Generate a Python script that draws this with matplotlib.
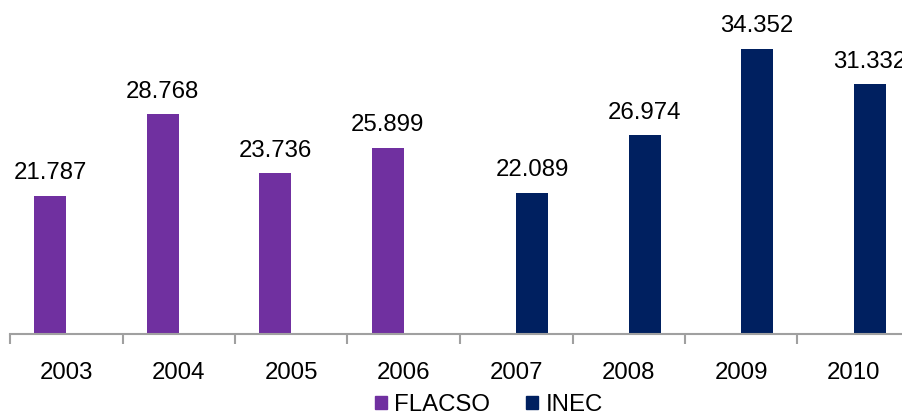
import numpy as np
import matplotlib
matplotlib.use("Agg")
import matplotlib.pyplot as plt
from matplotlib.patches import Patch

years = ["2003", "2004", "2005", "2006", "2007", "2008", "2009", "2010"]
flacso = [21.787, 28.768, 23.736, 25.899, None, None, None, None]
inec = [None, None, None, None, 22.089, 26.974, 34.352, 31.332]
labels_fmt = lambda v: f"{v:.3f}"

plt.rcParams['font.family'] = ['Liberation Sans', 'DejaVu Sans']
W, H = 902, 412
fig = plt.figure(figsize=(W/100, H/100), dpi=100)
ax = fig.add_axes([10/W, (H-334)/H, 900/W, 334/H])

purple = "#7030A0"
navy = "#002060"
x = np.arange(len(years))
bw = 32/112.5
fs = 17.3

for i, v in enumerate(flacso):
    if v is not None:
        ax.bar(x[i] - bw/2, v - 10, bottom=10, width=bw, color=purple)
        ax.text(x[i] - bw/2, v + 1.0, labels_fmt(v), ha='center', va='bottom', fontsize=fs)
for i, v in enumerate(inec):
    if v is not None:
        ax.bar(x[i] + bw/2, v - 10, bottom=10, width=bw, color=navy)
        ax.text(x[i] + bw/2, v + 1.0, labels_fmt(v), ha='center', va='bottom', fontsize=fs)

ax.set_xlim(-0.5, len(years) - 0.5)
ax.set_ylim(10, 10 + 334/11.7)
for s in ['top', 'right', 'left']:
    ax.spines[s].set_visible(False)
ax.spines['bottom'].set_color('#a0a0a0')
ax.spines['bottom'].set_linewidth(1.5)
ax.set_yticks([])
ax.set_xticks(np.arange(-0.5, len(years) + 0.5, 1))
ax.set_xticklabels([])
ax.tick_params(axis='x', which='major', length=7, width=1.5, color='#a0a0a0')
ax.set_xticks(x, minor=True)
ax.set_xticklabels(years, minor=True, fontsize=fs)
ax.tick_params(axis='x', which='minor', length=0, pad=20)

handles = [Patch(color=purple, label='FLACSO'), Patch(color=navy, label='INEC')]
fig.legend(handles=handles, loc='center', bbox_to_anchor=(489/W, (H-405)/H), ncol=2,
           frameon=False, fontsize=fs, handlelength=0.5, handleheight=0.5,
           handletextpad=0.3, columnspacing=1.5, borderaxespad=0, borderpad=0)

fig.savefig("out.png", dpi=100)
